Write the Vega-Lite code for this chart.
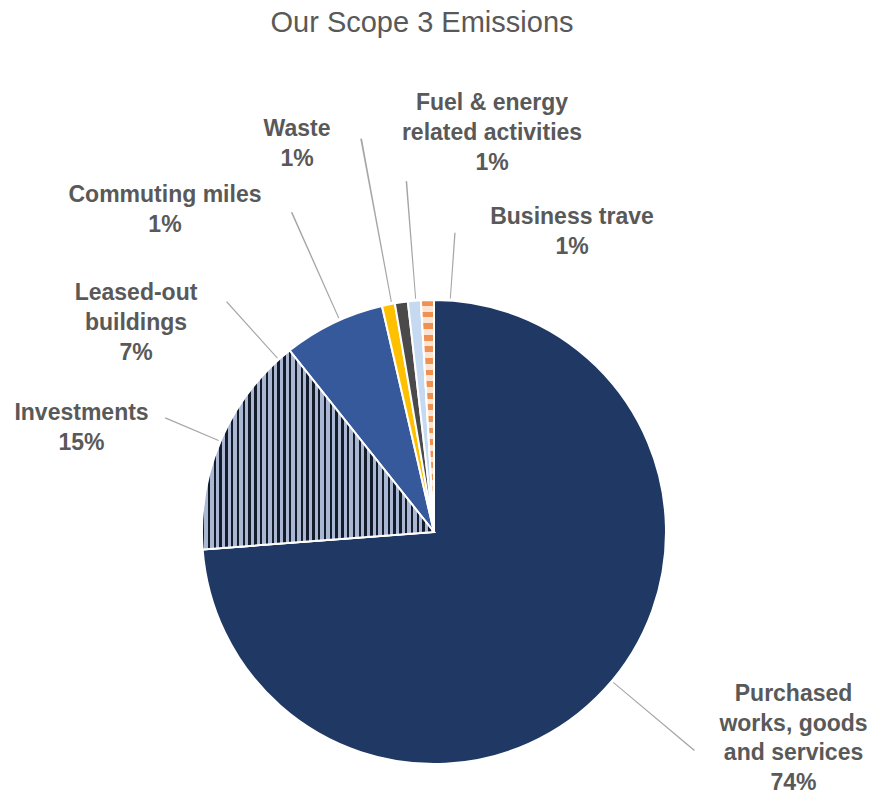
{
  "$schema": "https://vega.github.io/schema/vega-lite/v6.json",
  "autosize": "none",
  "width": 868,
  "height": 464,
  "padding": {"top": 300, "left": 0, "right": 3, "bottom": 32},
  "background": "white",
  "title": {"text": "Our Scope 3 Emissions", "fontSize": 29, "font": "Liberation Sans", "fontWeight": "normal", "color": "#595959", "offset": 50, "frame": "group", "anchor": "middle", "dx": -12},
  "config": {"view": {"stroke": null}},
  "data": {"values": [
    {"cat": "Purchased", "value": 73.8, "order": 1, "label": "Purchased\nworks, goods\nand services\n74%"},
    {"cat": "Investments", "value": 15.5, "order": 2, "label": "Investments\n15%"},
    {"cat": "Leased", "value": 7.1, "order": 3, "label": "Leased-out\nbuildings\n7%"},
    {"cat": "Commuting", "value": 0.9, "order": 4, "label": "Commuting miles\n1%"},
    {"cat": "Waste", "value": 0.9, "order": 5, "label": "Waste\n1%"},
    {"cat": "Fuel", "value": 0.9, "order": 6, "label": "Fuel & energy\nrelated activities\n1%"},
    {"cat": "Business", "value": 0.9, "order": 7, "label": "Business trave\n1%"}
  ]},
  "transform": [
    {"stack": "value", "groupby": [], "as": ["v0", "v1"], "sort": [{"field": "order", "order": "ascending"}]}
  ],
  "encoding": {
    "theta": {"field": "v0", "type": "quantitative", "scale": {"domain": [0, 100]}}
  },
  "layer": [
    {
      "mark": {"type": "arc", "outerRadius": 232, "stroke": "white", "strokeWidth": 2},
      "encoding": {
        "theta2": {"field": "v1"},
        "color": {"field": "cat", "type": "nominal", "legend": null,
          "scale": {"domain": ["Purchased", "Investments", "Leased", "Commuting", "Waste", "Fuel", "Business"],
                    "range": ["#1f3864", "#4a5670", "#35599b", "#ffc000", "#4a4a4a", "#c5d9f0", "#f4b183"]}}
      }
    },
    {
      "mark": {"type": "arc", "outerRadius": 232, "stroke": "white", "strokeWidth": 2,
        "fill": {"gradient": "linear", "x1": 0, "y1": 0, "x2": 1, "y2": 0, "stops": [
          {"offset":0,"color":"#141c2c"},{"offset":0.01,"color":"#141c2c"},{"offset":0.01,"color":"#a9b7d3"},{"offset":0.025,"color":"#a9b7d3"},
          {"offset":0.025,"color":"#141c2c"},{"offset":0.035,"color":"#141c2c"},{"offset":0.035,"color":"#a9b7d3"},{"offset":0.05,"color":"#a9b7d3"},
          {"offset":0.05,"color":"#141c2c"},{"offset":0.06,"color":"#141c2c"},{"offset":0.06,"color":"#a9b7d3"},{"offset":0.075,"color":"#a9b7d3"},
          {"offset":0.075,"color":"#141c2c"},{"offset":0.085,"color":"#141c2c"},{"offset":0.085,"color":"#a9b7d3"},{"offset":0.1,"color":"#a9b7d3"},
          {"offset":0.1,"color":"#141c2c"},{"offset":0.11,"color":"#141c2c"},{"offset":0.11,"color":"#a9b7d3"},{"offset":0.125,"color":"#a9b7d3"},
          {"offset":0.125,"color":"#141c2c"},{"offset":0.135,"color":"#141c2c"},{"offset":0.135,"color":"#a9b7d3"},{"offset":0.15,"color":"#a9b7d3"},
          {"offset":0.15,"color":"#141c2c"},{"offset":0.16,"color":"#141c2c"},{"offset":0.16,"color":"#a9b7d3"},{"offset":0.175,"color":"#a9b7d3"},
          {"offset":0.175,"color":"#141c2c"},{"offset":0.185,"color":"#141c2c"},{"offset":0.185,"color":"#a9b7d3"},{"offset":0.2,"color":"#a9b7d3"},
          {"offset":0.2,"color":"#141c2c"},{"offset":0.21,"color":"#141c2c"},{"offset":0.21,"color":"#a9b7d3"},{"offset":0.225,"color":"#a9b7d3"},
          {"offset":0.225,"color":"#141c2c"},{"offset":0.235,"color":"#141c2c"},{"offset":0.235,"color":"#a9b7d3"},{"offset":0.25,"color":"#a9b7d3"},
          {"offset":0.25,"color":"#141c2c"},{"offset":0.26,"color":"#141c2c"},{"offset":0.26,"color":"#a9b7d3"},{"offset":0.275,"color":"#a9b7d3"},
          {"offset":0.275,"color":"#141c2c"},{"offset":0.285,"color":"#141c2c"},{"offset":0.285,"color":"#a9b7d3"},{"offset":0.3,"color":"#a9b7d3"},
          {"offset":0.3,"color":"#141c2c"},{"offset":0.31,"color":"#141c2c"},{"offset":0.31,"color":"#a9b7d3"},{"offset":0.325,"color":"#a9b7d3"},
          {"offset":0.325,"color":"#141c2c"},{"offset":0.335,"color":"#141c2c"},{"offset":0.335,"color":"#a9b7d3"},{"offset":0.35,"color":"#a9b7d3"},
          {"offset":0.35,"color":"#141c2c"},{"offset":0.36,"color":"#141c2c"},{"offset":0.36,"color":"#a9b7d3"},{"offset":0.375,"color":"#a9b7d3"},
          {"offset":0.375,"color":"#141c2c"},{"offset":0.385,"color":"#141c2c"},{"offset":0.385,"color":"#a9b7d3"},{"offset":0.4,"color":"#a9b7d3"},
          {"offset":0.4,"color":"#141c2c"},{"offset":0.41,"color":"#141c2c"},{"offset":0.41,"color":"#a9b7d3"},{"offset":0.425,"color":"#a9b7d3"},
          {"offset":0.425,"color":"#141c2c"},{"offset":0.435,"color":"#141c2c"},{"offset":0.435,"color":"#a9b7d3"},{"offset":0.45,"color":"#a9b7d3"},
          {"offset":0.45,"color":"#141c2c"},{"offset":0.46,"color":"#141c2c"},{"offset":0.46,"color":"#a9b7d3"},{"offset":0.475,"color":"#a9b7d3"},
          {"offset":0.475,"color":"#141c2c"},{"offset":0.485,"color":"#141c2c"},{"offset":0.485,"color":"#a9b7d3"},{"offset":0.5,"color":"#a9b7d3"},
          {"offset":0.5,"color":"#141c2c"},{"offset":0.51,"color":"#141c2c"},{"offset":0.51,"color":"#a9b7d3"},{"offset":0.525,"color":"#a9b7d3"},
          {"offset":0.525,"color":"#141c2c"},{"offset":0.535,"color":"#141c2c"},{"offset":0.535,"color":"#a9b7d3"},{"offset":0.55,"color":"#a9b7d3"},
          {"offset":0.55,"color":"#141c2c"},{"offset":0.56,"color":"#141c2c"},{"offset":0.56,"color":"#a9b7d3"},{"offset":0.575,"color":"#a9b7d3"},
          {"offset":0.575,"color":"#141c2c"},{"offset":0.585,"color":"#141c2c"},{"offset":0.585,"color":"#a9b7d3"},{"offset":0.6,"color":"#a9b7d3"},
          {"offset":0.6,"color":"#141c2c"},{"offset":0.61,"color":"#141c2c"},{"offset":0.61,"color":"#a9b7d3"},{"offset":0.625,"color":"#a9b7d3"},
          {"offset":0.625,"color":"#141c2c"},{"offset":0.635,"color":"#141c2c"},{"offset":0.635,"color":"#a9b7d3"},{"offset":0.65,"color":"#a9b7d3"},
          {"offset":0.65,"color":"#141c2c"},{"offset":0.66,"color":"#141c2c"},{"offset":0.66,"color":"#a9b7d3"},{"offset":0.675,"color":"#a9b7d3"},
          {"offset":0.675,"color":"#141c2c"},{"offset":0.685,"color":"#141c2c"},{"offset":0.685,"color":"#a9b7d3"},{"offset":0.7,"color":"#a9b7d3"},
          {"offset":0.7,"color":"#141c2c"},{"offset":0.71,"color":"#141c2c"},{"offset":0.71,"color":"#a9b7d3"},{"offset":0.725,"color":"#a9b7d3"},
          {"offset":0.725,"color":"#141c2c"},{"offset":0.735,"color":"#141c2c"},{"offset":0.735,"color":"#a9b7d3"},{"offset":0.75,"color":"#a9b7d3"},
          {"offset":0.75,"color":"#141c2c"},{"offset":0.76,"color":"#141c2c"},{"offset":0.76,"color":"#a9b7d3"},{"offset":0.775,"color":"#a9b7d3"},
          {"offset":0.775,"color":"#141c2c"},{"offset":0.785,"color":"#141c2c"},{"offset":0.785,"color":"#a9b7d3"},{"offset":0.8,"color":"#a9b7d3"},
          {"offset":0.8,"color":"#141c2c"},{"offset":0.81,"color":"#141c2c"},{"offset":0.81,"color":"#a9b7d3"},{"offset":0.825,"color":"#a9b7d3"},
          {"offset":0.825,"color":"#141c2c"},{"offset":0.835,"color":"#141c2c"},{"offset":0.835,"color":"#a9b7d3"},{"offset":0.85,"color":"#a9b7d3"},
          {"offset":0.85,"color":"#141c2c"},{"offset":0.86,"color":"#141c2c"},{"offset":0.86,"color":"#a9b7d3"},{"offset":0.875,"color":"#a9b7d3"},
          {"offset":0.875,"color":"#141c2c"},{"offset":0.885,"color":"#141c2c"},{"offset":0.885,"color":"#a9b7d3"},{"offset":0.9,"color":"#a9b7d3"},
          {"offset":0.9,"color":"#141c2c"},{"offset":0.91,"color":"#141c2c"},{"offset":0.91,"color":"#a9b7d3"},{"offset":0.925,"color":"#a9b7d3"},
          {"offset":0.925,"color":"#141c2c"},{"offset":0.935,"color":"#141c2c"},{"offset":0.935,"color":"#a9b7d3"},{"offset":0.95,"color":"#a9b7d3"},
          {"offset":0.95,"color":"#141c2c"},{"offset":0.96,"color":"#141c2c"},{"offset":0.96,"color":"#a9b7d3"},{"offset":0.975,"color":"#a9b7d3"},
          {"offset":0.975,"color":"#141c2c"},{"offset":0.985,"color":"#141c2c"},{"offset":0.985,"color":"#a9b7d3"},{"offset":1,"color":"#a9b7d3"}
        ]}},
      "encoding": {"theta2": {"field": "v1"}, "opacity": {"condition": {"test": "datum.cat === 'Investments'", "value": 1}, "value": 0}}
    },
    {
      "mark": {"type": "arc", "outerRadius": 232, "stroke": "white", "strokeWidth": 2,
        "fill": {"gradient": "linear", "x1": 0, "y1": 0, "x2": 0, "y2": 1, "stops": [
          {"offset":0,"color":"#ef9150"},{"offset":0.025,"color":"#ef9150"},{"offset":0.025,"color":"#fce4d4"},{"offset":0.05,"color":"#fce4d4"},
          {"offset":0.05,"color":"#ef9150"},{"offset":0.075,"color":"#ef9150"},{"offset":0.075,"color":"#fce4d4"},{"offset":0.1,"color":"#fce4d4"},
          {"offset":0.1,"color":"#ef9150"},{"offset":0.125,"color":"#ef9150"},{"offset":0.125,"color":"#fce4d4"},{"offset":0.15,"color":"#fce4d4"},
          {"offset":0.15,"color":"#ef9150"},{"offset":0.175,"color":"#ef9150"},{"offset":0.175,"color":"#fce4d4"},{"offset":0.2,"color":"#fce4d4"},
          {"offset":0.2,"color":"#ef9150"},{"offset":0.225,"color":"#ef9150"},{"offset":0.225,"color":"#fce4d4"},{"offset":0.25,"color":"#fce4d4"},
          {"offset":0.25,"color":"#ef9150"},{"offset":0.275,"color":"#ef9150"},{"offset":0.275,"color":"#fce4d4"},{"offset":0.3,"color":"#fce4d4"},
          {"offset":0.3,"color":"#ef9150"},{"offset":0.325,"color":"#ef9150"},{"offset":0.325,"color":"#fce4d4"},{"offset":0.35,"color":"#fce4d4"},
          {"offset":0.35,"color":"#ef9150"},{"offset":0.375,"color":"#ef9150"},{"offset":0.375,"color":"#fce4d4"},{"offset":0.4,"color":"#fce4d4"},
          {"offset":0.4,"color":"#ef9150"},{"offset":0.425,"color":"#ef9150"},{"offset":0.425,"color":"#fce4d4"},{"offset":0.45,"color":"#fce4d4"},
          {"offset":0.45,"color":"#ef9150"},{"offset":0.475,"color":"#ef9150"},{"offset":0.475,"color":"#fce4d4"},{"offset":0.5,"color":"#fce4d4"},
          {"offset":0.5,"color":"#ef9150"},{"offset":0.525,"color":"#ef9150"},{"offset":0.525,"color":"#fce4d4"},{"offset":0.55,"color":"#fce4d4"},
          {"offset":0.55,"color":"#ef9150"},{"offset":0.575,"color":"#ef9150"},{"offset":0.575,"color":"#fce4d4"},{"offset":0.6,"color":"#fce4d4"},
          {"offset":0.6,"color":"#ef9150"},{"offset":0.625,"color":"#ef9150"},{"offset":0.625,"color":"#fce4d4"},{"offset":0.65,"color":"#fce4d4"},
          {"offset":0.65,"color":"#ef9150"},{"offset":0.675,"color":"#ef9150"},{"offset":0.675,"color":"#fce4d4"},{"offset":0.7,"color":"#fce4d4"},
          {"offset":0.7,"color":"#ef9150"},{"offset":0.725,"color":"#ef9150"},{"offset":0.725,"color":"#fce4d4"},{"offset":0.75,"color":"#fce4d4"},
          {"offset":0.75,"color":"#ef9150"},{"offset":0.775,"color":"#ef9150"},{"offset":0.775,"color":"#fce4d4"},{"offset":0.8,"color":"#fce4d4"},
          {"offset":0.8,"color":"#ef9150"},{"offset":0.825,"color":"#ef9150"},{"offset":0.825,"color":"#fce4d4"},{"offset":0.85,"color":"#fce4d4"},
          {"offset":0.85,"color":"#ef9150"},{"offset":0.875,"color":"#ef9150"},{"offset":0.875,"color":"#fce4d4"},{"offset":0.9,"color":"#fce4d4"},
          {"offset":0.9,"color":"#ef9150"},{"offset":0.925,"color":"#ef9150"},{"offset":0.925,"color":"#fce4d4"},{"offset":0.95,"color":"#fce4d4"},
          {"offset":0.95,"color":"#ef9150"},{"offset":0.975,"color":"#ef9150"},{"offset":0.975,"color":"#fce4d4"},{"offset":1,"color":"#fce4d4"}
        ]}},
      "encoding": {"theta2": {"field": "v1"}, "opacity": {"condition": {"test": "datum.cat === 'Business'", "value": 1}, "value": 0}}
    },
    {"mark": {"type": "arc", "innerRadius": 234, "outerRadius": 340, "fill": "#a6a6a6", "thetaOffset": 2.2667, "theta2Offset": -2.3659},
     "encoding": {"theta2": {"field": "v1"}, "opacity": {"condition": {"test": "datum.cat === 'Purchased'", "value": 1}, "value": 0}}},
    {"mark": {"type": "arc", "innerRadius": 234, "outerRadius": 292, "fill": "#a6a6a6", "thetaOffset": 0.4746, "theta2Offset": -0.4948},
     "encoding": {"theta2": {"field": "v1"}, "opacity": {"condition": {"test": "datum.cat === 'Investments'", "value": 1}, "value": 0}}},
    {"mark": {"type": "arc", "innerRadius": 234, "outerRadius": 310, "fill": "#a6a6a6", "thetaOffset": -0.0630, "theta2Offset": -0.5047},
     "encoding": {"theta2": {"field": "v1"}, "opacity": {"condition": {"test": "datum.cat === 'Leased'", "value": 1}, "value": 0}}},
    {"mark": {"type": "arc", "innerRadius": 234, "outerRadius": 350, "fill": "#a6a6a6", "thetaOffset": -0.1950, "theta2Offset": -0.2470},
     "encoding": {"theta2": {"field": "v1"}, "opacity": {"condition": {"test": "datum.cat === 'Commuting'", "value": 1}, "value": 0}}},
    {"mark": {"type": "arc", "innerRadius": 234, "outerRadius": 400, "fill": "#a6a6a6", "thetaOffset": -0.0159, "theta2Offset": -0.0679},
     "encoding": {"theta2": {"field": "v1"}, "opacity": {"condition": {"test": "datum.cat === 'Waste'", "value": 1}, "value": 0}}},
    {"mark": {"type": "arc", "innerRadius": 234, "outerRadius": 352, "fill": "#a6a6a6", "thetaOffset": 0.0324, "theta2Offset": -0.0198},
     "encoding": {"theta2": {"field": "v1"}, "opacity": {"condition": {"test": "datum.cat === 'Fuel'", "value": 1}, "value": 0}}},
    {"mark": {"type": "arc", "innerRadius": 234, "outerRadius": 300, "fill": "#a6a6a6", "thetaOffset": 0.1242, "theta2Offset": 0.0721},
     "encoding": {"theta2": {"field": "v1"}, "opacity": {"condition": {"test": "datum.cat === 'Business'", "value": 1}, "value": 0}}},
    {"mark": {"type": "text", "radius": 394.5, "thetaOffset": 1.9950, "font": "Liberation Sans", "fontWeight": "bold", "fontSize": 23, "color": "#595959", "lineBreak": "\n", "lineHeight": 29.5, "align": "center", "baseline": "middle"},
     "encoding": {"text": {"field": "label"}, "opacity": {"condition": {"test": "datum.cat === 'Purchased'", "value": 1}, "value": 0}}},
    {"mark": {"type": "text", "radius": 372, "thetaOffset": 0.4009, "font": "Liberation Sans", "fontWeight": "bold", "fontSize": 23, "color": "#595959", "lineBreak": "\n", "lineHeight": 30, "align": "center", "baseline": "middle"},
     "encoding": {"text": {"field": "label"}, "opacity": {"condition": {"test": "datum.cat === 'Investments'", "value": 1}, "value": 0}}},
    {"mark": {"type": "text", "radius": 382, "thetaOffset": -0.2225, "font": "Liberation Sans", "fontWeight": "bold", "fontSize": 23, "color": "#595959", "lineBreak": "\n", "lineHeight": 30, "align": "center", "baseline": "middle"},
     "encoding": {"text": {"field": "label"}, "opacity": {"condition": {"test": "datum.cat === 'Leased'", "value": 1}, "value": 0}}},
    {"mark": {"type": "text", "radius": 431.2, "thetaOffset": -0.4475, "font": "Liberation Sans", "fontWeight": "bold", "fontSize": 23, "color": "#595959", "lineBreak": "\n", "lineHeight": 30, "align": "center", "baseline": "middle"},
     "encoding": {"text": {"field": "label"}, "opacity": {"condition": {"test": "datum.cat === 'Commuting'", "value": 1}, "value": 0}}},
    {"mark": {"type": "text", "radius": 425.6, "thetaOffset": -0.1580, "font": "Liberation Sans", "fontWeight": "bold", "fontSize": 23, "color": "#595959", "lineBreak": "\n", "lineHeight": 30, "align": "center", "baseline": "middle"},
     "encoding": {"text": {"field": "label"}, "opacity": {"condition": {"test": "datum.cat === 'Waste'", "value": 1}, "value": 0}}},
    {"mark": {"type": "text", "radius": 432.9, "thetaOffset": 0.2475, "font": "Liberation Sans", "fontWeight": "bold", "fontSize": 23, "color": "#595959", "lineBreak": "\n", "lineHeight": 30, "align": "center", "baseline": "middle"},
     "encoding": {"text": {"field": "label"}, "opacity": {"condition": {"test": "datum.cat === 'Fuel'", "value": 1}, "value": 0}}},
    {"mark": {"type": "text", "radius": 343.9, "thetaOffset": 0.4695, "font": "Liberation Sans", "fontWeight": "bold", "fontSize": 23, "color": "#595959", "lineBreak": "\n", "lineHeight": 30, "align": "center", "baseline": "middle"},
     "encoding": {"text": {"field": "label"}, "opacity": {"condition": {"test": "datum.cat === 'Business'", "value": 1}, "value": 0}}}
  ]
}
